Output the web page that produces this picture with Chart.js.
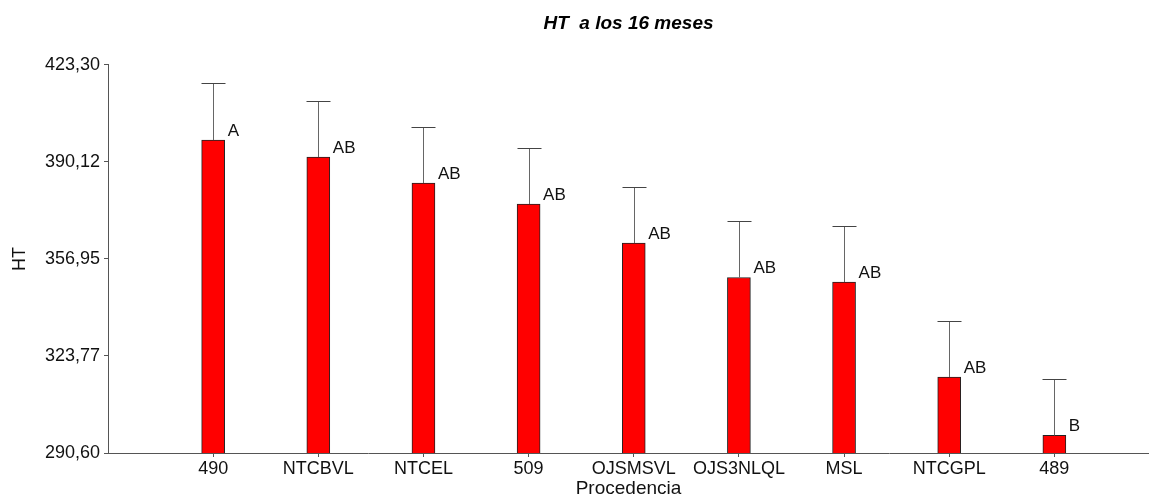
<!DOCTYPE html>
<html>
<head>
<meta charset="utf-8">
<script src="https://cdn.jsdelivr.net/npm/chart.js@4/dist/chart.umd.min.js"></script>
<style>
  html, body { margin: 0; padding: 0; background: #fff; }
  #wrap { width: 1149px; height: 500px; }
</style>
</head>
<body>
<div id="wrap"><canvas id="chartHT"></canvas></div>
<script>
const procedencias = ["490", "NTCBVL", "NTCEL", "509", "OJSMSVL", "OJS3NLQL", "MSL", "NTCGPL", "489"];
const htMedia = [397.57, 391.76, 382.88, 375.7, 362.37, 350.6, 349.04, 316.57, 296.6];
const htSuperior = [417.05, 410.9, 402.0, 394.94, 381.5, 369.75, 368.18, 335.71, 315.89];
const letras = ["A", "AB", "AB", "AB", "AB", "AB", "AB", "AB", "B"];
const yTicks = [290.6, 323.775, 356.95, 390.125, 423.3];
const yTickLabels = ["290,60", "323,77", "356,95", "390,12", "423,30"];

const FONT = "'Liberation Sans', Arial, sans-serif";

// error bars (upper only) + letters of Tukey test
const errorBars = {
  id: "errorBars",
  afterDatasetsDraw(chart) {
    const { ctx, scales: { x, y } } = chart;
    const meta = chart.getDatasetMeta(0);
    ctx.save();
    meta.data.forEach((bar, i) => {
      const cx = Math.round(x.getPixelForValue(i)) + 0.5;
      const yTop = Math.round(y.getPixelForValue(htSuperior[i])) + 0.5;
      const yBar = y.getPixelForValue(htMedia[i]);
      ctx.strokeStyle = "#666";
      ctx.lineWidth = 1;
      ctx.beginPath();
      ctx.moveTo(cx, yBar);
      ctx.lineTo(cx, yTop);
      ctx.stroke();
      ctx.strokeStyle = "#444";
      ctx.beginPath();
      ctx.moveTo(cx - 12, yTop);
      ctx.lineTo(cx + 12, yTop);
      ctx.stroke();

      ctx.fillStyle = "#111";
      ctx.font = "17px " + FONT;
      ctx.textAlign = "left";
      ctx.textBaseline = "alphabetic";
      ctx.fillText(letras[i], bar.x + bar.width / 2 + 3, yBar - 4);
    });
    ctx.restore();
  }
};

new Chart(document.getElementById("chartHT"), {
  type: "bar",
  data: {
    datasets: [{
      label: "HT",
      data: procedencias.map((p, i) => ({ x: i, y: htMedia[i] })),
      backgroundColor: "#ff0000",
      borderColor: "#222",
      borderWidth: 1,
      borderSkipped: false,
      barThickness: 23
    }]
  },
  options: {
    responsive: true,
    maintainAspectRatio: false,
    animation: false,
    layout: { padding: 0 },
    plugins: {
      legend: { display: false },
      tooltip: { enabled: false },
      title: {
        display: true,
        fullSize: false,
        text: "HT  a los 16 meses",
        color: "#000",
        font: { family: FONT, size: 19, weight: "bold", style: "italic" },
        padding: { top: 12, bottom: 30 }
      }
    },
    scales: {
      x: {
        type: "linear",
        min: -1,
        max: 8.9,
        offset: false,
        afterBuildTicks(scale) {
          scale.ticks = procedencias.map((p, i) => ({ value: i }));
        },
        afterFit(scale) { scale.height = 47; },
        ticks: {
          autoSkip: false,
          maxRotation: 0,
          padding: 1,
          color: "#111",
          font: { family: FONT, size: 18 },
          callback: (v) => procedencias[v] ?? ""
        },
        grid: { drawOnChartArea: false, offset: false, tickLength: 4, color: "#555" },
        border: { color: "#555" },
        title: {
          display: true,
          text: "Procedencia",
          color: "#111",
          font: { family: FONT, size: 19 },
          padding: { top: 0, bottom: 0 }
        }
      },
      y: {
        min: 290.6,
        max: 423.3,
        afterBuildTicks(scale) {
          scale.ticks = yTicks.map(v => ({ value: v }));
        },
        afterFit(scale) { scale.width = 108; },
        ticks: {
          padding: 4,
          color: "#111",
          font: { family: FONT, size: 18 },
          callback: function (v, idx) { return yTickLabels[idx]; }
        },
        grid: { drawOnChartArea: false, tickLength: 4, color: "#555" },
        border: { color: "#555" },
        title: {
          display: true,
          text: "HT",
          color: "#111",
          font: { family: FONT, size: 18 },
          padding: { top: 9, bottom: 0 }
        }
      }
    }
  },
  plugins: [errorBars]
});
</script>
</body>
</html>
